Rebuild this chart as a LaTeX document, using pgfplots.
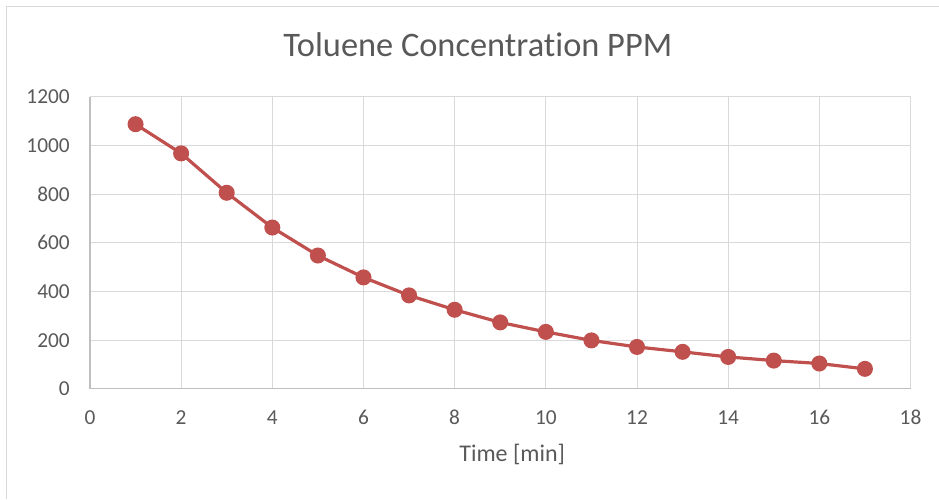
\documentclass[border=0pt]{standalone}
\usepackage{pgfplots}
\pgfplotsset{compat=1.18}
\usepackage{fontspec}
\setmainfont{Carlito}[Ligatures=NoCommon]
\definecolor{txt}{HTML}{595959}
\definecolor{gridc}{HTML}{D9D9D9}
\definecolor{axisc}{HTML}{BFBFBF}
\definecolor{series}{HTML}{C0504D}
\begin{document}
\begin{tikzpicture}
\path (-67.5pt,-82.5pt) rectangle (636.75pt,291.75pt);
\draw[gridc, line width=0.75pt] (-62.6pt,-82.5pt) -- (-62.6pt,286.9pt) -- (636.75pt,286.9pt);
\begin{axis}[
  at={(0,0)}, anchor=south west,
  scale only axis, width=615.75pt, height=219pt,
  xmin=0, xmax=18, ymin=0, ymax=1200,
  xtick={0,2,...,18}, ytick={0,200,...,1200},
  axis x line=bottom, axis y line=left,
  axis line style={axisc, line width=0.9pt, -},
  grid=major, major grid style={gridc, line width=0.75pt},
  major tick length=0pt,
  /pgf/number format/assume math mode=true,
  /pgf/number format/1000 sep={},
  tick label style={font=\fontsize{16}{18}\selectfont, text=txt},
  xticklabel style={anchor=center, yshift=-21.75pt},
  yticklabel style={anchor=east, inner sep=0pt, xshift=-15pt},
  clip=false,
]
\addplot[series, line width=2.4pt, mark=*, mark size=4.8pt, mark options={fill=series, draw=series}] coordinates {
(1,1088) (2,968) (3,806) (4,663) (5,548) (6,458) (7,384) (8,325) (9,273) (10,234) (11,199) (12,172) (13,152) (14,131) (15,116) (16,104) (17,82)
};
\node[text=txt, font=\fontsize{25.8}{30}\selectfont] at (rel axis cs:0.4726,1) [yshift=39pt] {Toluene Concentration PPM};
\node[text=txt, font=\fontsize{18}{21}\selectfont] at (rel axis cs:0.5146,0) [yshift=-49.5pt] {Time [min]};
\end{axis}
\end{tikzpicture}
\end{document}
